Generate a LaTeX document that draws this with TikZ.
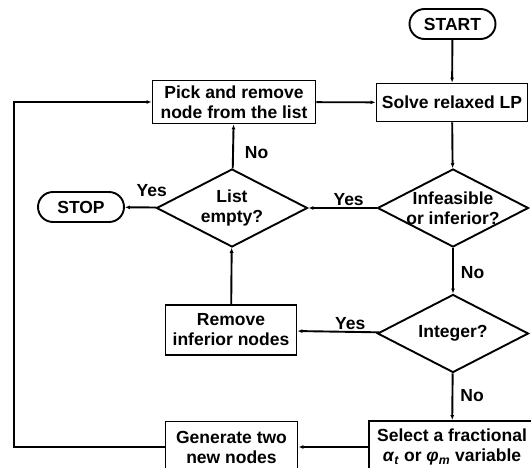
\documentclass[tikz,border=0pt]{standalone}
\usepackage{amsmath,amssymb}
\usepackage{fontspec}
\setmainfont{Liberation Sans}
\usepackage{tikz}
\usetikzlibrary{arrows.meta,positioning,shapes.geometric}

\begin{document}
\begin{tikzpicture}[
    x=1pt, y=-1pt,
    line width=1.9pt,
    font=\fontsize{17.5}{20}\selectfont\bfseries,
    caixa/.style={draw, align=center, inner sep=0pt},
    term/.style={draw, rounded corners=15pt, align=center, minimum width=86pt, minimum height=30pt, inner sep=0pt},
    losango/.style={draw, diamond, align=center, aspect=1.95, minimum width=151pt, minimum height=78pt, inner sep=-6pt},
    seta/.style={-{Latex[length=5pt,width=4pt]}},
    rot/.style={inner sep=1pt}
  ]
    \useasboundingbox (0,0) rectangle (531,468);
    \clip (0,0) rectangle (531,468);

    \node[term] (start) at (452.5,24) {START};
    \node[caixa, minimum width=151pt, minimum height=38pt] (solve) at (452,102.5) {Solve relaxed LP};
    \node[caixa, minimum width=163pt, minimum height=43pt] (pick) at (234,102) {Pick and remove\\node from the list};
    \node[losango] (infeas) at (453,208) {Infeasible\\or inferior?};
    \node[losango] (empty) at (232,208) {List\\empty?};
    \node[term] (stop) at (81,207) {STOP};
    \node[losango] (integer) at (453,333.5) {Integer?};
    \node[caixa, minimum width=131pt, minimum height=50pt] (remove) at (231,330) {Remove\\inferior nodes};
    \node[caixa, minimum width=166pt, minimum height=52pt] (select) at (452,447) {Select a fractional\\\textit{α}\textsubscript{\textit{t}} or \textit{φ}\textsubscript{\textit{m}} variable};
    \node[caixa, minimum width=132pt, minimum height=51pt] (gen) at (231.5,447) {Generate two\\new nodes};
    \coordinate (volta) at (14,0);

    \draw[seta] (start) -- (solve);
    \draw[seta] (pick) -- (solve);
    \draw[seta] (solve) -- (infeas);
    \draw[seta] (infeas) -- node[rot, above, pos=0.41] {Yes} (empty);
    \draw[seta] (infeas) -- node[rot, right=6pt, pos=0.54] {No} (integer);
    \draw[seta] (empty) -- node[rot, above=9pt, pos=0.15] {Yes} (stop);
    \draw[seta] (empty) -- node[rot, right=10pt, pos=0.35] {No} (pick);
    \draw[seta] (integer) -- node[rot, above, pos=0.35] {Yes} (remove);
    \draw[seta] (integer) -- node[rot, right=6pt, pos=0.48] {No} (select);
    \draw[seta] (remove) -- (empty);
    \draw[seta] (select) -- (gen);
    \draw[seta] (gen.west) -- (gen.west -| volta) |- (pick.west);
  \end{tikzpicture}
\end{document}
